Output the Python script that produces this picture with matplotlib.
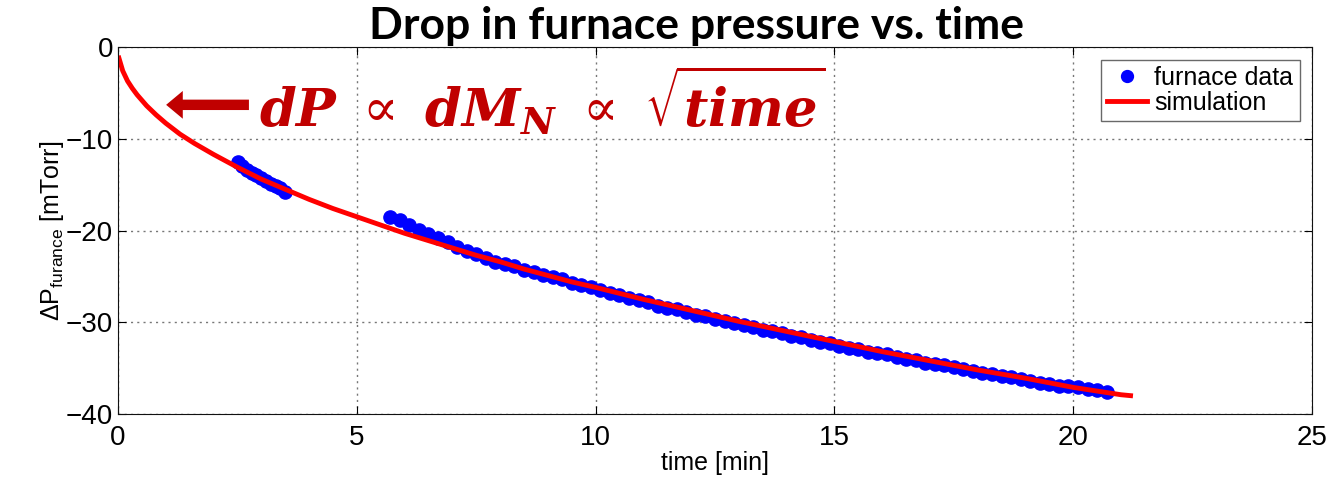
import numpy as np
import matplotlib
matplotlib.use("Agg")
import matplotlib.pyplot as plt

# ---- data ----
# furnace data, first chunk
t_data1 = [2.52, 2.6, 2.7, 2.8, 2.9, 3.0, 3.1, 3.2, 3.3, 3.4, 3.5]
p_data1 = [-12.5, -13.0, -13.4, -13.7, -14.0, -14.3, -14.6, -14.9, -15.1, -15.4, -15.8]

# furnace data, second chunk
t_data2 = [5.7, 5.9, 6.1, 6.3, 6.5, 6.7, 6.9, 7.1, 7.3, 7.5, 7.7, 7.9, 8.1, 8.3, 8.5,
           8.7, 8.9, 9.1, 9.3, 9.5, 9.7, 9.9, 10.1, 10.3, 10.5, 10.7, 10.9, 11.1, 11.3,
           11.5, 11.7, 11.9, 12.1, 12.3, 12.5, 12.7, 12.9, 13.1, 13.3, 13.5, 13.7, 13.9,
           14.1, 14.3, 14.5, 14.7, 14.9, 15.1, 15.3, 15.5, 15.7, 15.9, 16.1, 16.3, 16.5,
           16.7, 16.9, 17.1, 17.3, 17.5, 17.7, 17.9, 18.1, 18.3, 18.5, 18.7, 18.9, 19.1,
           19.3, 19.5, 19.7, 19.9, 20.1, 20.3, 20.5, 20.7]
p_data2 = [-18.5, -18.9, -19.4, -19.9, -20.4, -20.8, -21.3, -21.8, -22.2, -22.6, -23.0,
           -23.4, -23.6, -23.9, -24.3, -24.5, -24.8, -25.1, -25.3, -25.7, -25.9, -26.2,
           -26.5, -26.8, -27.0, -27.4, -27.6, -27.8, -28.2, -28.4, -28.6, -28.9, -29.2,
           -29.3, -29.6, -29.9, -30.1, -30.3, -30.5, -30.8, -31.0, -31.2, -31.5, -31.6,
           -31.9, -32.1, -32.3, -32.6, -32.8, -32.9, -33.2, -33.4, -33.5, -33.8, -34.0,
           -34.1, -34.4, -34.6, -34.7, -34.9, -35.1, -35.3, -35.5, -35.6, -35.9, -36.0,
           -36.2, -36.4, -36.6, -36.7, -36.9, -37.0, -37.1, -37.3, -37.4, -37.6]

# simulation curve
t_sim = [0.02, 0.1, 0.2, 0.3, 0.4, 0.6, 0.8, 1.0, 1.3, 1.6, 2.0, 2.5, 3.0, 3.5, 4.0,
         4.5, 5.0, 5.5, 6.0, 6.5, 7.0, 7.5, 8.0, 8.5, 9.0, 9.5, 10.0, 11.0, 12.0, 13.0,
         14.0, 15.0, 16.0, 17.0, 18.0, 19.0, 20.0, 21.0, 21.2]
p_sim = [-1.2, -2.6, -3.7, -4.5, -5.2, -6.4, -7.4, -8.3, -9.5, -10.5, -11.7, -13.1,
         -14.4, -15.5, -16.6, -17.6, -18.5, -19.4, -20.3, -21.1, -21.9, -22.7, -23.4,
         -24.2, -24.9, -25.6, -26.2, -27.5, -28.7, -29.9, -31.0, -32.1, -33.2, -34.2,
         -35.2, -36.1, -37.1, -37.9, -38.0]

plt.rcParams["font.family"] = ["Liberation Sans", "DejaVu Sans"]
plt.rcParams["mathtext.fontset"] = "dejavuserif"

fig = plt.figure(figsize=(13.3, 4.8), dpi=100)
ax = fig.add_axes([0.0887, 0.1375, 0.8978, 0.7645])

# data + simulation
ax.plot(t_data1, p_data1, "o", color="#0000ff", markersize=9.5, label="furnace data")
ax.plot(t_data2, p_data2, "o", color="#0000ff", markersize=9.5)
ax.plot(t_sim, p_sim, "-", color="#ff0000", linewidth=3.5, label="simulation")

ax.set_xlim(0, 25)
ax.set_ylim(-40, 0)
ax.set_xticks([0, 5, 10, 15, 20, 25])
ax.set_yticks([-40, -30, -20, -10, 0])
ax.grid(True, linestyle=(0, (1.5, 3)), color="#777777", linewidth=1.0)
ax.tick_params(direction="in", labelsize=20, length=6, top=True, right=True)
ax.tick_params(axis="x", pad=8)
for s in ax.spines.values():
    s.set_color("#111111")

ax.set_xlabel("time [min]", fontsize=18, labelpad=0)
ax.set_ylabel(r"$\mathregular{\Delta P_{furance}}$ [mTorr]", fontsize=18, labelpad=0)

ax.legend(loc="upper right", fontsize=18, frameon=True, fancybox=False,
          edgecolor="#444444", handlelength=1.6, borderpad=0.25, labelspacing=0.05,
          handletextpad=0.3, borderaxespad=0.5, markerscale=0.9)

# title sits right on top of the axes, like the slide
fig.text(0.524, 0.918, "Drop in furnace pressure vs. time", fontsize=32,
         fontweight="bold", family="Lato", ha="center", va="baseline")

# annotation: arrow + proportionality
ax.annotate("", xy=(0.95, -6.3), xytext=(2.8, -6.3),
            arrowprops=dict(arrowstyle="simple,head_length=1.2,head_width=2.0,tail_width=0.75",
                            color="#c00000", lw=0))
ax.text(2.95, -5.9, r"$\mathbfit{dP}\ \propto\ \mathbfit{dM}_{\mathbfit{N}}\ \propto\ \sqrt{\mathbfit{time}}$",
        color="#c00000", fontsize=38, va="center", ha="left")

plt.savefig("out.png", dpi=100)
